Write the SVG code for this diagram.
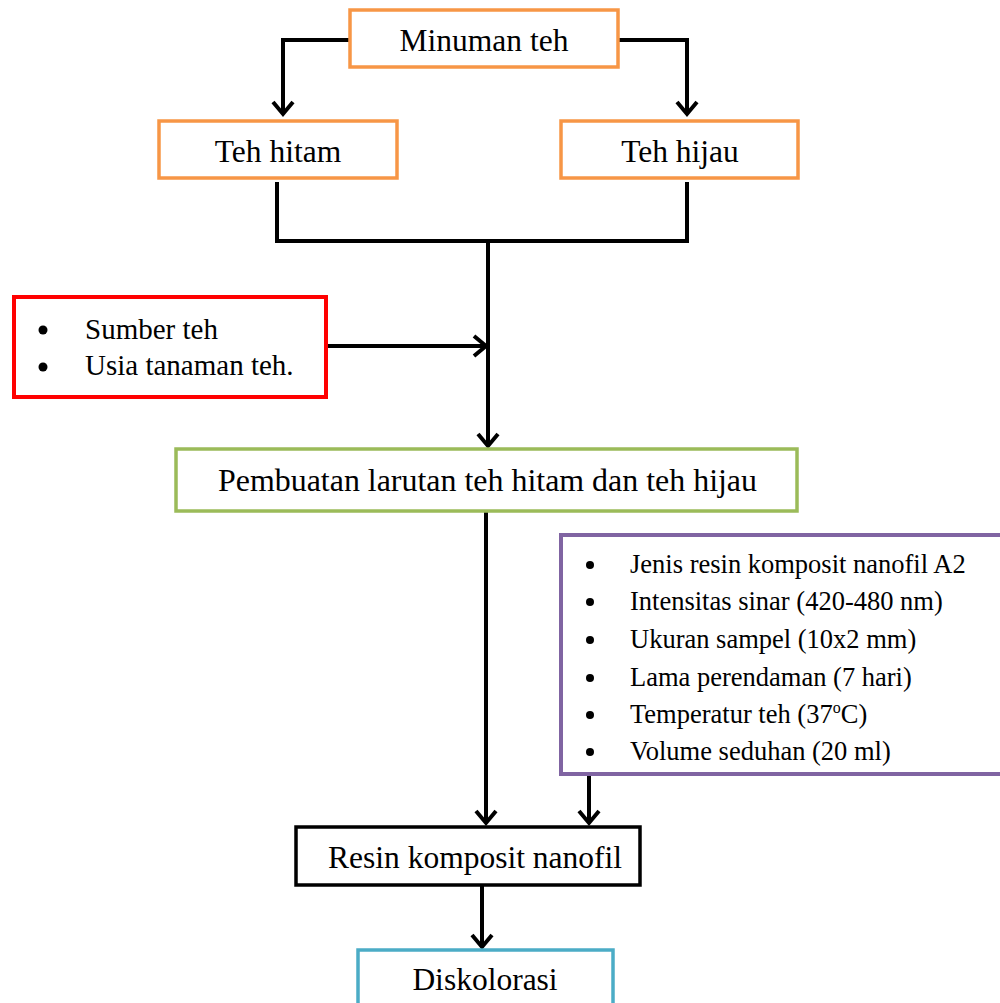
<svg xmlns="http://www.w3.org/2000/svg" width="1000" height="1003" viewBox="0 0 1000 1003">
<style>
.box{fill:#ffffff;stroke-width:3.5}
.t{font-family:"Liberation Serif","Times New Roman",serif;fill:#000;font-size:31.5px}
.l1{font-family:"Liberation Serif","Times New Roman",serif;fill:#000;font-size:29px}
.l2{font-family:"Liberation Serif","Times New Roman",serif;fill:#000;font-size:26.5px}
.c{fill:none;stroke:#000;stroke-width:4}
</style>
<defs>
<marker id="arr" markerUnits="userSpaceOnUse" viewBox="-16 -14 20 28" markerWidth="20" markerHeight="28" refX="0" refY="0" orient="auto">
<path d="M -12 -10 L 0 0 L -12 10" fill="none" stroke="#000" stroke-width="4"/>
</marker>
</defs>
<rect width="1000" height="1003" fill="#ffffff"/>
<g id="connectors">
<polyline class="c" points="350,40 283,40 283,114" marker-end="url(#arr)"/>
<polyline class="c" points="618,40 687,40 687,114" marker-end="url(#arr)"/>
<polyline class="c" points="277,182 277,241 687,241 687,182"/>
<line class="c" x1="488" y1="241" x2="488" y2="446" marker-end="url(#arr)"/>
<line class="c" x1="326" y1="346" x2="486" y2="346" marker-end="url(#arr)"/>
<line class="c" x1="486" y1="512" x2="486" y2="823" marker-end="url(#arr)"/>
<line class="c" x1="589" y1="775" x2="589" y2="823" marker-end="url(#arr)"/>
<line class="c" x1="482" y1="886" x2="482" y2="947" marker-end="url(#arr)"/>
</g>
<g id="minuman">
<rect class="box" x="350" y="10" width="268" height="57" stroke="#F79646"/>
<text class="t" x="484" y="51" text-anchor="middle">Minuman teh</text>
</g>
<g id="teh-hitam">
<rect class="box" x="159" y="121" width="238" height="57" stroke="#F79646"/>
<text class="t" x="278" y="162" text-anchor="middle">Teh hitam</text>
</g>
<g id="teh-hijau">
<rect class="box" x="561" y="121" width="237" height="57" stroke="#F79646"/>
<text class="t" x="680" y="162" text-anchor="middle">Teh hijau</text>
</g>
<g id="faktor-teh">
<rect x="14" y="297" width="312" height="100" fill="#fff" stroke="#FF0000" stroke-width="4"/>
<circle cx="43" cy="330" r="4.5"/>
<circle cx="43" cy="367" r="4.5"/>
<text class="l1" x="85" y="339">Sumber teh</text>
<text class="l1" x="85" y="375">Usia tanaman teh.</text>
</g>
<g id="pembuatan">
<rect class="box" x="176" y="449" width="621" height="62" stroke="#9BBB59" stroke-width="4"/>
<text class="t" x="218" y="491" textLength="539" lengthAdjust="spacingAndGlyphs">Pembuatan larutan teh hitam dan teh hijau</text>
</g>
<g id="variabel">
<rect x="561" y="535" width="460" height="239" fill="#fff" stroke="#8064A2" stroke-width="4"/>
<circle cx="590" cy="565" r="4"/>
<circle cx="590" cy="602" r="4"/>
<circle cx="590" cy="640" r="4"/>
<circle cx="590" cy="678" r="4"/>
<circle cx="590" cy="715" r="4"/>
<circle cx="590" cy="752" r="4"/>
<text class="l2" x="630" y="573">Jenis resin komposit nanofil A2</text>
<text class="l2" x="630" y="610">Intensitas sinar (420-480 nm)</text>
<text class="l2" x="630" y="648">Ukuran sampel (10x2 mm)</text>
<text class="l2" x="630" y="686">Lama perendaman (7 hari)</text>
<text class="l2" x="630" y="723">Temperatur teh (37<tspan font-size="16" dy="-10">o</tspan><tspan dy="10">C)</tspan></text>
<text class="l2" x="630" y="760">Volume seduhan (20 ml)</text>
</g>
<g id="resin">
<rect class="box" x="296" y="827" width="344" height="58" stroke="#000" stroke-width="4"/>
<text class="t" x="475" y="868" text-anchor="middle">Resin komposit nanofil</text>
</g>
<g id="diskolorasi">
<rect class="box" x="358" y="950" width="255" height="70" stroke="#4BACC6" stroke-width="3.5"/>
<text class="t" x="485" y="990" text-anchor="middle">Diskolorasi</text>
</g>
</svg>
